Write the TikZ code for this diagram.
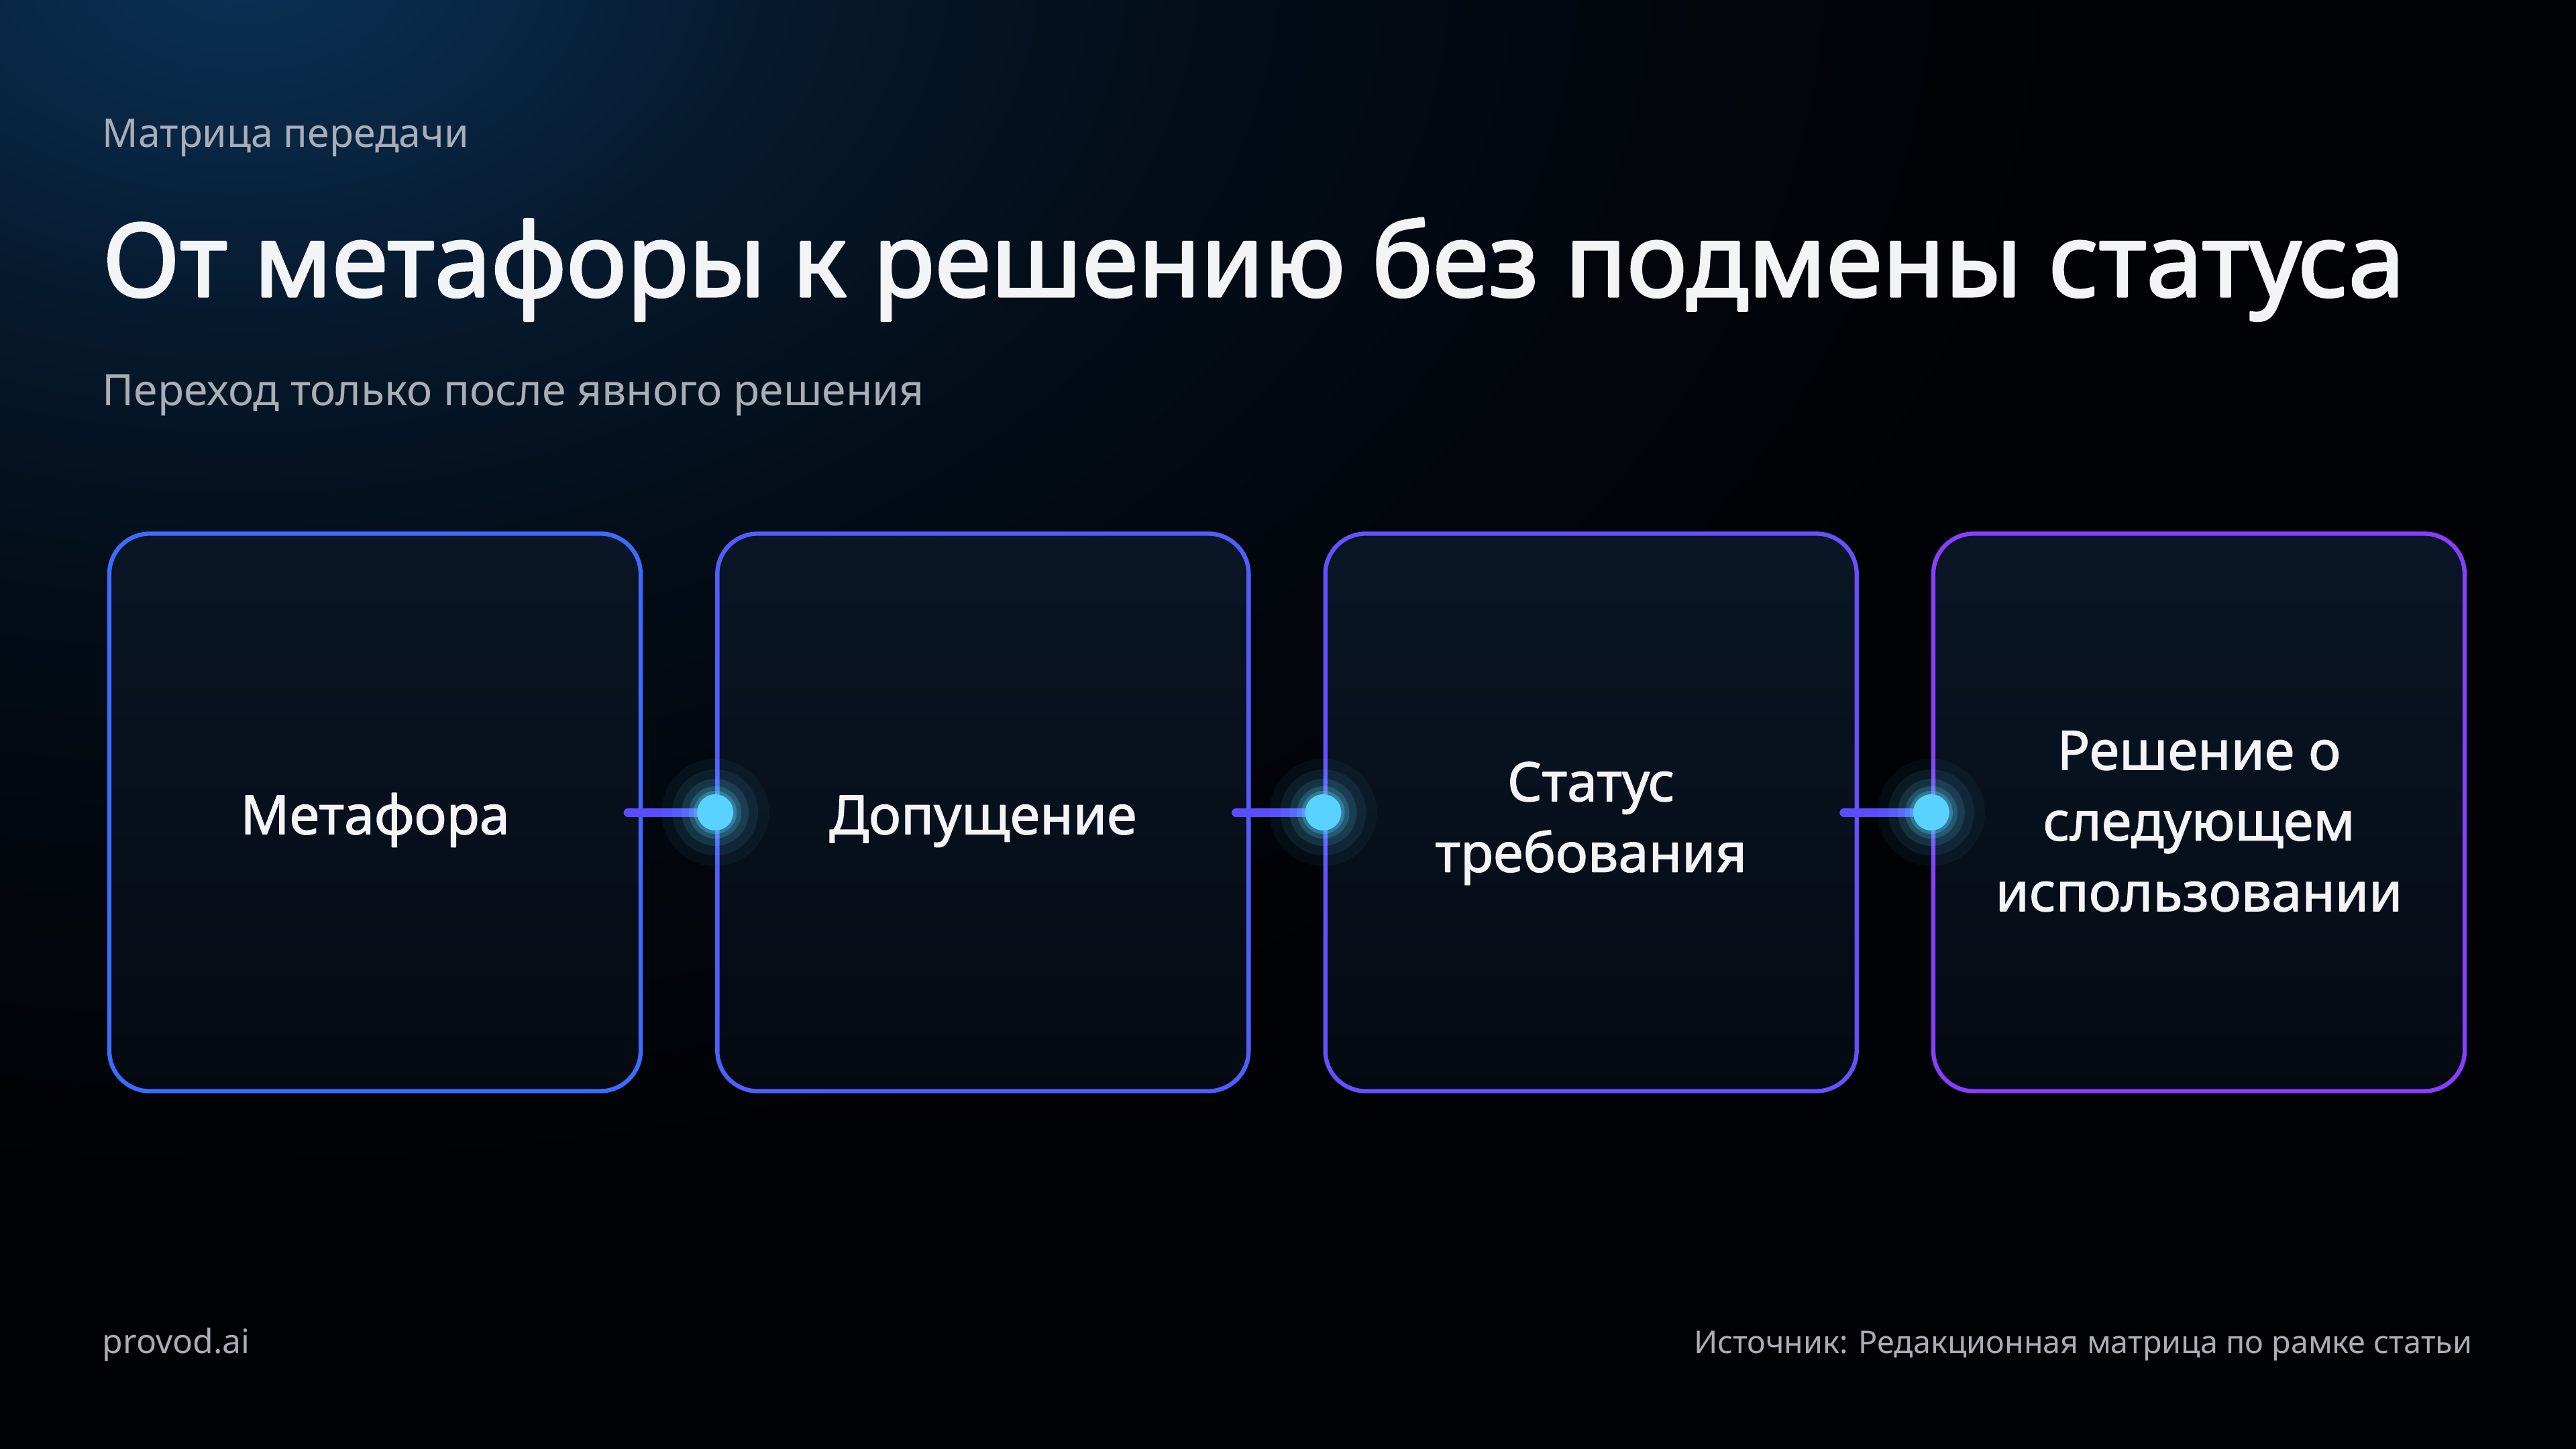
\documentclass[tikz,border=0pt]{standalone}
\usepackage{fontspec}
\setmainfont{Noto Sans}
\newfontfamily\midfont[FakeBold=1.5]{Noto Sans}
\newfontfamily\headfont[FakeBold=2.2]{Noto Sans}
\usetikzlibrary{positioning}
\definecolor{bgc}{HTML}{010205}
\definecolor{glowc}{HTML}{0B3156}
\definecolor{greyt}{HTML}{A9ADB5}
\definecolor{whitet}{HTML}{F3F4F6}
\definecolor{boxtop}{HTML}{0A1626}
\definecolor{boxbot}{HTML}{050A12}
\definecolor{edgeA}{HTML}{3B6CFF}
\definecolor{edgeB}{HTML}{4E5FFF}
\definecolor{edgeC}{HTML}{6650FF}
\definecolor{edgeD}{HTML}{8A3DFF}
\definecolor{linkc}{HTML}{5A4CFF}
\definecolor{dotc}{HTML}{5AD2FF}
\pgfdeclareradialshading{topglow}{\pgfpoint{0bp}{0bp}}{color(0bp)=(glowc); color(3bp)=(glowc!80!bgc); color(7bp)=(glowc!48!bgc); color(12bp)=(glowc!24!bgc); color(18bp)=(glowc!8!bgc); color(23bp)=(bgc); color(50bp)=(bgc)}
\begin{document}
\begin{tikzpicture}[line join=round,line cap=round,
	stepbox/.style={rounded corners=0.6cm,minimum width=7.92cm,minimum height=8.31cm,line width=1.8pt,top color=boxtop,bottom color=boxbot,text=whitet,align=center,font=\midfont\fontsize{23}{30}\selectfont},
	link/.style={linkc,line width=3.7pt},
	node distance=1.08cm]
	%%% nền
	\useasboundingbox (0,0) rectangle (38.4,-21.6);
	\fill[bgc] (0,0) rectangle (38.4,-21.6);
	\begin{scope}
		\clip (0,0) rectangle (38.4,-21.6);
		\shade[shading=topglow] (3.6,0.6) ellipse (30 and 20);
	\end{scope}
	%%% tiêu đề
	\node[anchor=base west,inner sep=0,text=greyt,font=\fontsize{16.8}{20}\selectfont] (kicker) at (1.52,-2.20) {Матрица передачи};
	\node[anchor=base west,inner sep=0,text=whitet,font=\headfont\fontsize{43.2}{52}\selectfont] (title) at (1.52,-4.42) {От метафоры к решению без подмены статуса};
	\node[anchor=base west,inner sep=0,text=greyt,font=\fontsize{18.3}{22}\selectfont] (subtitle) at (1.52,-6.05) {Переход только после явного решения};
	%%% các ô
	\node[stepbox,draw=edgeA,text height=24pt] (metaphor) at (5.59,-12.11) {Метафора};
	\node[stepbox,draw=edgeB,text height=24pt,right=of metaphor] (assume) {Допущение};
	\node[stepbox,draw=edgeC,text height=56pt,right=of assume] (status) {Статус\\требования};
	\node[stepbox,draw=edgeD,text height=84pt,right=of status] (decision) {Решение о\\следующем\\использовании};
	%%% nối
	\draw[link] ([xshift=-0.22cm]metaphor.east) -- (assume.west);
	\draw[link] ([xshift=-0.22cm]assume.east) -- (status.west);
	\draw[link] ([xshift=-0.22cm]status.east) -- (decision.west);
	\foreach \n in {assume,status,decision}{
		\foreach \r/\o in {0.8/0.05,0.64/0.08,0.5/0.13,0.39/0.2,0.32/0.3}
			\fill[dotc,opacity=\o] (\n.west) circle (\r);
		\fill[dotc] (\n.west) circle (0.27);
	}
	%%% chân trang
	\node[anchor=base west,inner sep=0,text=greyt,font=\fontsize{14.2}{17}\selectfont] (brand) at (1.52,-20.17) {provod.ai};
	\node[anchor=base east,inner sep=0,text=greyt,font=\fontsize{13.3}{16}\selectfont] (source) at (36.86,-20.17) {Источник: Редакционная матрица по рамке статьи};
\end{tikzpicture}
\end{document}
